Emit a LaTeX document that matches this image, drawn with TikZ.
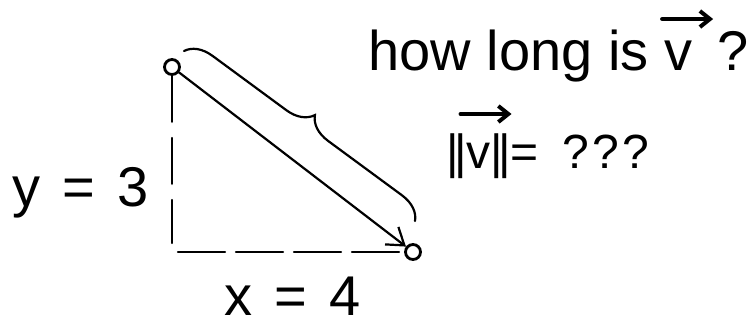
\documentclass[tikz,border=0pt]{standalone}
\usepackage{fontspec}
\setmainfont{Liberation Sans}
\usetikzlibrary{arrows.meta,decorations.pathreplacing,calc}

% v with a hand-drawn style arrow over it: #1 raise, #2 shift
\newcommand{\vecv}[2]{\makebox[0pt][l]{\hspace{#2}\raisebox{#1}{\tikz[x=1pt,y=1pt,baseline=0pt]
  \draw[line width=2pt,line cap=round,-{Straight Barb[length=5pt,width=8pt,line width=2pt]}] (0,0) -- (25.5,0);}}v}
\tikzset{vecfig/.style={x=0.5pt,y=-0.5pt,line cap=round},
  dot/.style={circle,draw,line width=1.4pt,fill=white,inner sep=0pt,minimum size=7.5pt},
  vec/.style={line width=1.1pt,-{Straight Barb[length=8pt,width=11pt]}},
  leg/.style={line width=1.1pt,dash pattern=on 23pt off 8pt},
  bracket/.style={line width=1.1pt,decorate,decoration={brace,amplitude=13pt}},
  bigtext/.style={font=\fontsize{28}{30}\selectfont,inner sep=0pt},
  midtext/.style={font=\fontsize{24}{26}\selectfont,inner sep=0pt}}

\begin{document}
\begin{tikzpicture}[vecfig]
    \useasboundingbox (0,0) rectangle (749,323);
    \node[dot] (tail) at (172,67) {};
    \node[dot] (head) at (413,252) {};
    \coordinate (corner) at (172,252);
    \draw[leg] (tail.south) -- ($(corner)+(0,-9)$);                          % y leg
    \draw[leg,dash pattern=on 23.5pt off 5.5pt] ($(corner)+(6,0)$) -- (head.west); % x leg
    \draw[vec] (tail) -- (head);
    \draw[bracket] ($(tail)+(12,-16)$) -- ($(head)+(2,-31)$);
    \node[bigtext,anchor=base west] (ylab) at (12,206) {y\hspace{0.4em}=\hspace{0.4em}3};
    \node[bigtext,anchor=base west] (xlab) at (224,315) {x\hspace{0.4em}=\hspace{0.4em}4};
    \node[bigtext,anchor=base west] (question) at (368,70) {how long is \vecv{25.5pt}{-2pt}\hspace{0.45em}?};
    \node[midtext,anchor=base west] (norm) at (446,168)
      {|\kern-.1em|\vecv{27pt}{-4pt}|\kern-.1em|=\hspace{0.5em}?\kern.07em?\kern.07em?};
  \end{tikzpicture}
\end{document}
